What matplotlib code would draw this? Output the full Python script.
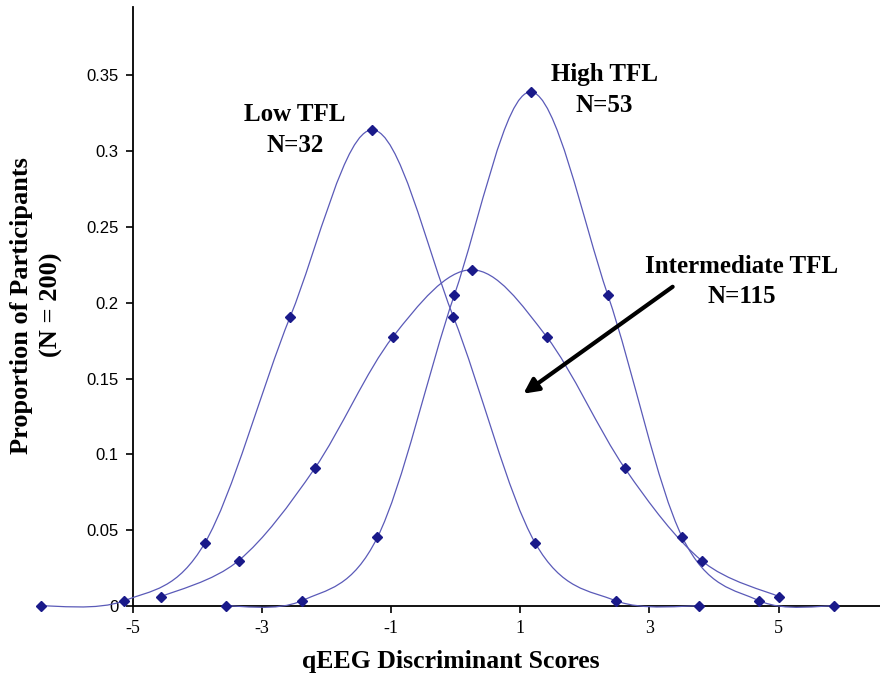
import matplotlib.pyplot as plt
from matplotlib.path import Path
from matplotlib.patches import PathPatch

# values (x = qEEG discriminant score, y = proportion)
low_x = [-6.42, -5.13, -3.88, -2.56, -1.29, -0.035, 1.23, 2.48, 3.77]
low_y = [0.0, 0.0035, 0.0417, 0.1908, 0.314, 0.1908, 0.0417, 0.0035, 0.0]

inter_x = [-4.56, -3.36, -2.18, -0.97, 0.247, 1.41, 2.62, 3.81, 5.01]
inter_y = [0.0061, 0.0299, 0.0908, 0.1775, 0.2217, 0.1775, 0.0908, 0.0299, 0.0061]

high_x = [-3.55, -2.38, -1.21, -0.02, 1.16, 2.357, 3.51, 4.70, 5.86]
high_y = [0.0, 0.0035, 0.0453, 0.205, 0.339, 0.205, 0.0453, 0.0035, 0.0]

xticks = [-5, -3, -1, 1, 3, 5]
yticks = [0, 0.05, 0.1, 0.15, 0.2, 0.25, 0.3, 0.35]
ytick_labels = ['0', '0.05', '0.1', '0.15', '0.2', '0.25', '0.3', '0.35']

line_col = '#5a5ab8'
mark_col = '#1a1a8a'
serif = 'Liberation Serif'


def smooth_path(xs, ys):
    # excel-like smoothed line: catmull-rom segments as cubic beziers
    pts = list(zip(xs, ys))
    verts = [pts[0]]
    codes = [Path.MOVETO]
    n = len(pts)
    for i in range(n - 1):
        p0 = pts[i - 1] if i > 0 else pts[i]
        p1 = pts[i]
        p2 = pts[i + 1]
        p3 = pts[i + 2] if i + 2 < n else pts[i + 1]
        c1 = (p1[0] + (p2[0] - p0[0]) / 6, p1[1] + (p2[1] - p0[1]) / 6)
        c2 = (p2[0] - (p3[0] - p1[0]) / 6, p2[1] - (p3[1] - p1[1]) / 6)
        verts += [c1, c2, p2]
        codes += [Path.CURVE4] * 3
    return Path(verts, codes)


fig = plt.figure(figsize=(8.8, 6.78), dpi=100)
ax = fig.add_axes([0.1507, 0.1062, 0.8493, 0.8835])
ax.set_xlim(-5, 6.57)
ax.set_ylim(0, 0.395)

for xs, ys in [(low_x, low_y), (inter_x, inter_y), (high_x, high_y)]:
    patch = PathPatch(smooth_path(xs, ys), fill=False, edgecolor=line_col,
                      linewidth=0.9, zorder=3, clip_on=False)
    ax.add_patch(patch)
    ax.plot(xs, ys, linestyle='none', marker='D', markersize=5.5,
            color=mark_col, zorder=4, clip_on=False)

ax.spines['top'].set_visible(False)
ax.spines['right'].set_visible(False)
ax.spines['left'].set_linewidth(1.3)
ax.spines['bottom'].set_linewidth(1.3)

ax.set_xticks(xticks)
ax.set_xticklabels([str(v) for v in xticks], fontfamily=serif, fontsize=13)
ax.set_yticks(yticks)
ax.set_yticklabels(ytick_labels, fontfamily='Liberation Sans', fontsize=12)
ax.tick_params(axis='both', direction='out', length=5, width=1.2, pad=5)

fig.text(0.0415, 0.55, 'Proportion of Participants\n(N = 200)', rotation=90,
         ha='center', va='center', ma='center', fontfamily=serif,
         fontweight='bold', fontsize=19, linespacing=1.4)
fig.text(0.512, 0.024, 'qEEG Discriminant Scores', ha='center', va='center',
         fontfamily=serif, fontweight='bold', fontsize=18.5)

ax.text(-2.49, 0.314, 'Low TFL\nN=32', ha='center', va='center',
        fontfamily=serif, fontweight='bold', fontsize=18, linespacing=1.45)
ax.text(2.30, 0.340, 'High TFL\nN=53', ha='center', va='center',
        fontfamily=serif, fontweight='bold', fontsize=18, linespacing=1.45)
ax.text(4.43, 0.214, 'Intermediate TFL\nN=115', ha='center', va='center',
        fontfamily=serif, fontweight='bold', fontsize=18, linespacing=1.35)

ax.annotate('', xy=(1.05, 0.140), xytext=(3.36, 0.2105),
            arrowprops=dict(arrowstyle='-|>', color='black', lw=3,
                            mutation_scale=22, shrinkA=0, shrinkB=0))

fig.savefig('out.png', dpi=100)
